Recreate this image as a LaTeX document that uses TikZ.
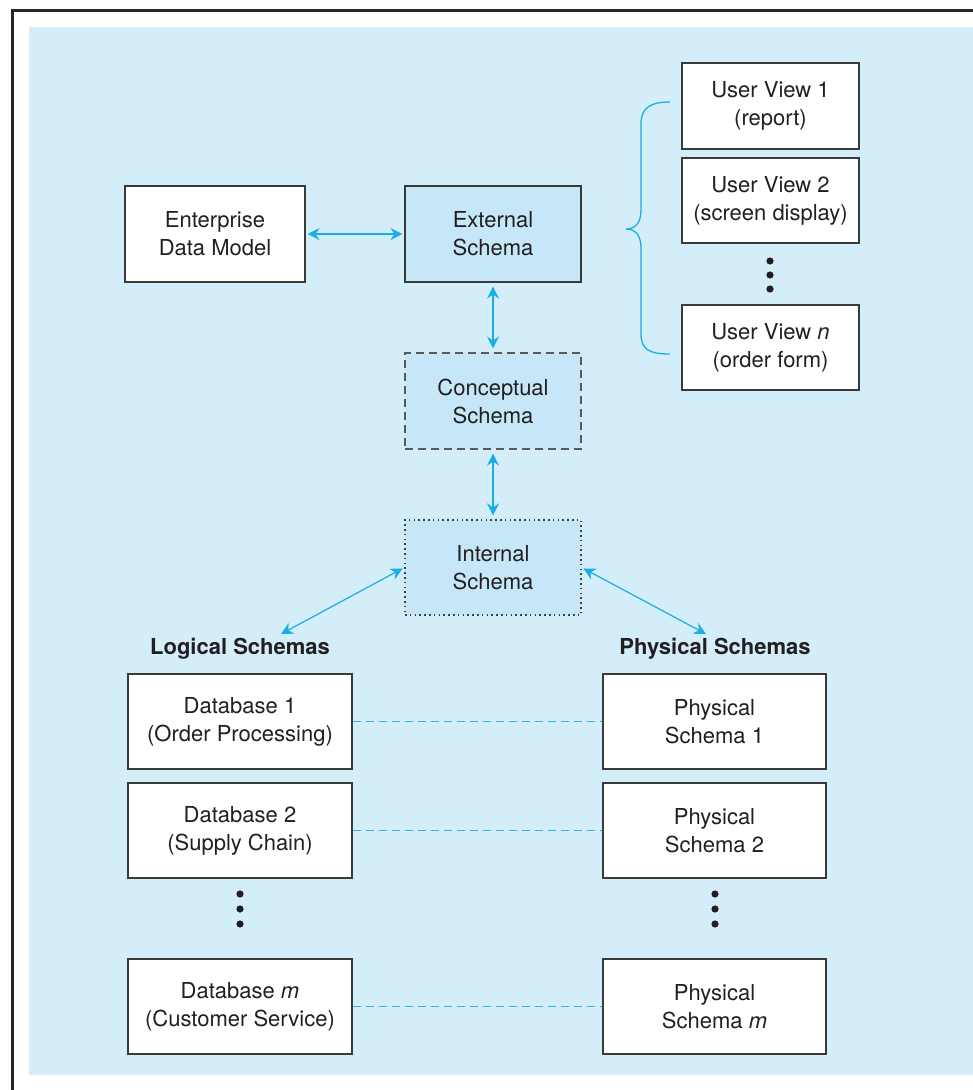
\documentclass[tikz,border=0pt]{standalone}
\usepackage{fontspec}
\setmainfont{TeX Gyre Heros}
\usepackage{tikz}
\usetikzlibrary{arrows.meta}

\definecolor{panelblue}{HTML}{D3EDF9}
\definecolor{schemablue}{HTML}{C5E7F8}
\definecolor{linkblue}{HTML}{1AADE8}
\definecolor{dashblue}{HTML}{2EB6EA}
\definecolor{ink}{HTML}{231F20}
\definecolor{edgegray}{HTML}{3A3A3A}

\begin{document}
\begin{tikzpicture}[x=1pt, y=-1pt,
    box/.style={draw=edgegray, line width=1.1pt, fill=white, text=ink, align=center,
                inner sep=0pt, font=\fontsize{22}{28}\selectfont},
    schemabox/.style={box, fill=schemablue, minimum width=176pt, minimum height=96pt},
    viewbox/.style={box, minimum width=177pt, minimum height=85pt},
    dbbox/.style={box, minimum width=224pt, minimum height=95pt},
    heading/.style={text=ink, inner sep=0pt, font=\fontsize{22}{28}\selectfont\bfseries},
    link/.style={linkblue, line width=1.2pt,
                 {Stealth[length=12pt, width=12pt, inset=4pt]}-{Stealth[length=12pt, width=12pt, inset=4pt]},
                 shorten <=2pt, shorten >=2pt},
    pairline/.style={dashblue, line width=1.5pt, dash pattern=on 8pt off 5pt}]

    \useasboundingbox (0,0) rectangle (973,1090);
    \fill[panelblue] (29,27) rectangle (973,1075);
    \draw[line width=3pt, black!85] (973,10) -- (12,10) -- (12,1090);

    % upper part
    \node[box, minimum width=180pt, minimum height=96pt] (edm) at (215,234) {Enterprise\\Data Model};
    \node[schemabox] (ext) at (493,234) {External\\Schema};
    \node[schemabox, draw=black!65, dash pattern=on 8pt off 5pt] (conc) at (493,401) {Conceptual\\Schema};
    \node[schemabox, draw=black!75, line width=1.3pt, dash pattern=on 1.6pt off 3.2pt,
          minimum height=95pt] (int) at (493,567.5) {Internal\\Schema};

    \node[viewbox, minimum height=86pt] (uv1) at (770.5,106) {User View 1\\(report)};
    \node[viewbox] (uv2) at (770.5,200.5) {User View 2\\(screen display)};
    \node[viewbox] (uvn) at (770.5,347.5) {User View \textit{n}\\(order form)};
    \foreach \y in {261,275,289}
        \fill[ink] (770,\y) circle (3.6pt);

    % brace
    \draw[linkblue, line width=1.3pt]
        (670,102) .. controls (650,102) and (641,108) .. (641,124)
        -- (641,210) .. controls (641,222) and (636,229) .. (626,229)
        .. controls (636,229) and (641,236) .. (641,248)
        -- (641,334) .. controls (641,350) and (650,354) .. (670,354);

    % lower part
    \node[heading] (logical) at (240,649) {Logical Schemas};
    \node[heading] (physical) at (715,649) {Physical Schemas};
    \coordinate (lgtip) at (281,634);
    \coordinate (phtip) at (706,634);

    \node[dbbox] (db1) at (240,721.5) {Database 1\\(Order Processing)};
    \node[dbbox] (db2) at (240,830.5) {Database 2\\(Supply Chain)};
    \node[dbbox] (dbm) at (240,1006.5) {Database \textit{m}\\(Customer Service)};
    \node[dbbox, minimum width=223pt] (ps1) at (714.5,721.5) {Physical\\Schema 1};
    \node[dbbox, minimum width=223pt] (ps2) at (714.5,830.5) {Physical\\Schema 2};
    \node[dbbox, minimum width=223pt] (psm) at (714.5,1006.5) {Physical\\Schema \textit{m}};
    \foreach \y in {894,909,924} {
        \fill[ink] (240,\y) circle (3.6pt);
        \fill[ink] (715,\y) circle (3.6pt);
    }

    \draw[link] (edm) -- (ext);
    \draw[link, shorten <=4pt, shorten >=4pt] (ext) -- (conc);
    \draw[link, shorten <=4pt, shorten >=4pt] (conc) -- (int);
    \draw[link, shorten >=0pt] (int.west) -- (lgtip);
    \draw[link, shorten >=0pt] (int.east) -- (phtip);

    \draw[pairline] (db1) -- (ps1);
    \draw[pairline] (db2) -- (ps2);
    \draw[pairline] (dbm) -- (psm);
\end{tikzpicture}
\end{document}
